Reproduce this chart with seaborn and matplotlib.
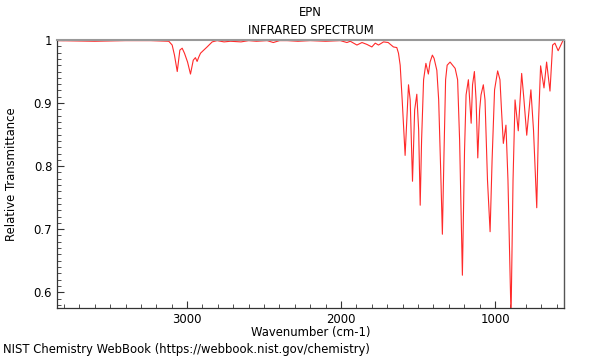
import matplotlib
matplotlib.use("Agg")
import matplotlib.pyplot as plt
from matplotlib.ticker import MultipleLocator, FuncFormatter
import seaborn as sns
import pandas as pd

# wavenumber (cm-1) and relative transmittance
wavenumber = [3845, 3600, 3400, 3237, 3119, 3097, 3082, 3064, 3047, 3032, 3017, 2997,
              2978, 2960, 2946, 2935, 2924, 2913, 2896, 2870, 2837, 2805, 2760, 2719,
              2650, 2600, 2550, 2480, 2440, 2400, 2350, 2280, 2200, 2100, 2005, 1962,
              1940, 1897, 1864, 1832, 1800, 1778, 1757, 1724, 1694, 1660, 1638, 1627,
              1616, 1603, 1584, 1562, 1551, 1536, 1522, 1508, 1496, 1486, 1477, 1464,
              1449, 1433, 1422, 1407, 1396, 1378, 1366, 1353, 1342, 1331, 1321, 1311,
              1292, 1259, 1243, 1230, 1212, 1198, 1188, 1173, 1155, 1146, 1134, 1123,
              1112, 1100, 1091, 1076, 1065, 1049, 1032, 1019, 1003, 983, 968, 958,
              946, 929, 916, 896, 883, 870, 849, 827, 812, 794, 767, 750,
              729, 717, 704, 682, 665, 643, 626, 611, 590, 557]
transmittance = [0.999, 0.998, 0.999, 0.999, 0.998, 0.992, 0.976, 0.950, 0.984, 0.987, 0.979, 0.965,
                 0.946, 0.968, 0.972, 0.966, 0.973, 0.979, 0.983, 0.989, 0.997, 0.999, 0.997, 0.998,
                 0.997, 0.999, 0.998, 0.999, 0.996, 0.999, 0.999, 0.998, 0.999, 0.998, 0.999, 0.996,
                 0.998, 0.992, 0.996, 0.993, 0.989, 0.995, 0.992, 0.997, 0.996, 0.989, 0.988, 0.979,
                 0.960, 0.905, 0.817, 0.929, 0.905, 0.776, 0.889, 0.914, 0.857, 0.738, 0.841, 0.937,
                 0.963, 0.946, 0.965, 0.976, 0.971, 0.952, 0.905, 0.794, 0.692, 0.825, 0.937, 0.960,
                 0.965, 0.955, 0.937, 0.841, 0.627, 0.825, 0.913, 0.937, 0.868, 0.929, 0.950, 0.905,
                 0.813, 0.889, 0.913, 0.929, 0.905, 0.778, 0.696, 0.810, 0.921, 0.951, 0.937, 0.889,
                 0.836, 0.865, 0.778, 0.560, 0.778, 0.905, 0.856, 0.947, 0.905, 0.849, 0.921, 0.857,
                 0.734, 0.873, 0.959, 0.924, 0.965, 0.919, 0.992, 0.995, 0.983, 1.000]

df = pd.DataFrame({"Wavenumber": wavenumber, "Transmittance": transmittance})

sns.set_style("ticks")
plt.rcParams["font.family"] = ["DejaVu Sans"]
plt.rcParams["text.color"] = "black"
plt.rcParams["axes.labelcolor"] = "black"
fs = 8.4

fig = plt.figure(figsize=(6, 3.6), dpi=100)
ax = fig.add_axes([0.095, 0.1444, 0.845, 0.7445])

sns.lineplot(data=df, x="Wavenumber", y="Transmittance", ax=ax, color="#ff2a2a",
             linewidth=0.8, estimator=None, sort=False)

ax.set_xlim(3845, 552)
ax.set_ylim(0.575, 1.0)
ax.xaxis.set_major_locator(MultipleLocator(1000))
ax.xaxis.set_minor_locator(MultipleLocator(100))
ax.yaxis.set_major_locator(MultipleLocator(0.1))
ax.yaxis.set_minor_locator(MultipleLocator(0.01))
ax.yaxis.set_major_formatter(FuncFormatter(lambda v, p: "%g" % round(v, 2)))
ax.tick_params(which="both", direction="in", top=False, right=False, labelsize=fs,
               colors="#333333", labelcolor="black")
ax.tick_params(which="major", length=5, width=0.8)
ax.tick_params(which="minor", length=3, width=0.6)

for side in ["left", "bottom"]:
    ax.spines[side].set_color("#333333")
    ax.spines[side].set_linewidth(0.9)
ax.spines["right"].set_color("#555555")
ax.spines["right"].set_linewidth(1.0)
ax.spines["top"].set_color("#999999")
ax.spines["top"].set_linewidth(1.5)

ax.set_xlabel("Wavenumber (cm-1)", fontsize=fs, labelpad=0)
ax.set_ylabel("Relative Transmittance", fontsize=fs, labelpad=11)
ax.set_title("EPN\nINFRARED SPECTRUM", fontsize=fs, pad=4, linespacing=1.55, color="black")

fig.text(0.005, 0.02, "NIST Chemistry WebBook (https://webbook.nist.gov/chemistry)", fontsize=fs)

fig.savefig("out.png", dpi=100)
